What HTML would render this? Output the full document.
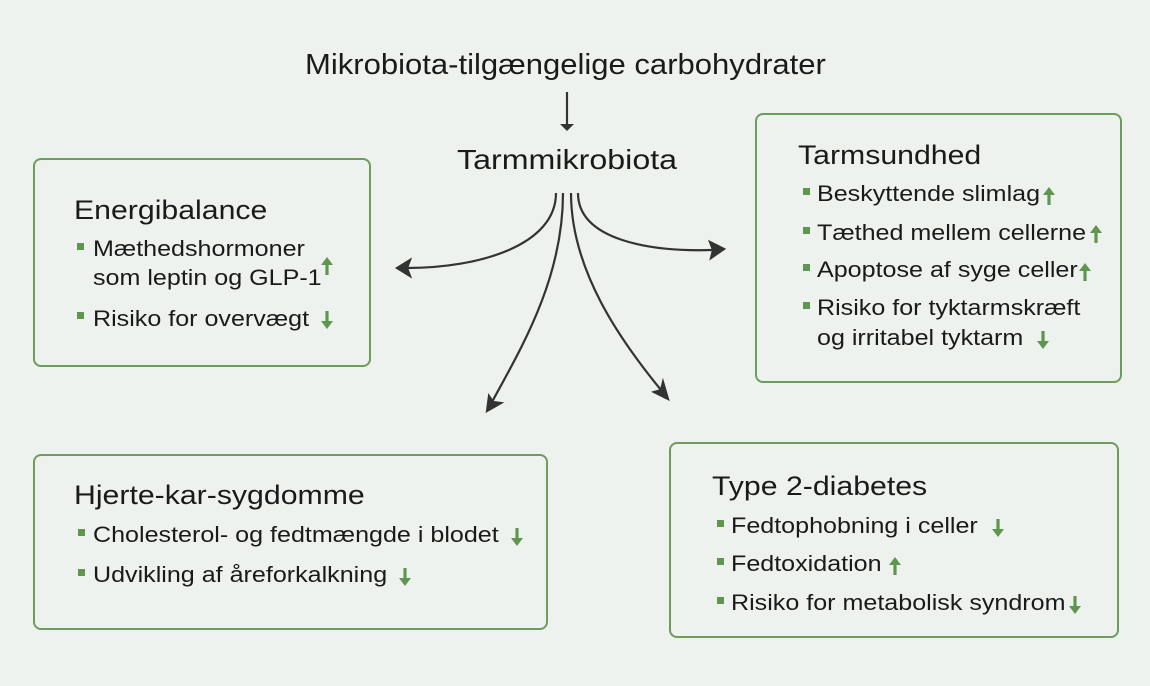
<!DOCTYPE html>
<html><head><meta charset="utf-8"><style>
body{margin:0;width:1150px;height:686px;background:#eef2ee;position:relative;overflow:hidden;font-family:"Liberation Sans",sans-serif;color:#1a1a1a}
.box{position:absolute;border:2.5px solid #6e9c5c;border-radius:8px;box-sizing:border-box}
.t{position:absolute;white-space:nowrap;line-height:1;transform-origin:0 0}
.h{font-size:27px;transform:scaleX(1.12)}
.i{font-size:22px;transform:scaleX(1.14)}
.b{position:absolute;width:7px;height:7px;background:#5e9650}
</style></head><body>
<div class="box" style="left:33px;top:158px;width:338px;height:209px"></div>
<div class="box" style="left:755px;top:113px;width:367px;height:270px"></div>
<div class="box" style="left:33px;top:454px;width:515px;height:176px"></div>
<div class="box" style="left:669px;top:442px;width:450px;height:196px"></div>

<div class="t" style="left:305px;top:51px;font-size:29px;transform:scaleX(1.07)">Mikrobiota-tilgængelige carbohydrater</div>
<div class="t" style="left:457px;top:146px;font-size:28px;transform:scaleX(1.15)">Tarmmikrobiota</div>

<svg width="1150" height="686" style="position:absolute;left:0;top:0" fill="none" stroke="#333" stroke-width="2.2">
<line x1="567" y1="92" x2="567" y2="124"/>
<path d="M560 124 L567 131 L574 124 Z" fill="#333" stroke="none"/>
<path d="M556 193 C556 245 480 268 407 268"/>
<path d="M578 193 C578 240 650 252 713 250"/>
<path d="M563 193 C563 280 520 350 492 402"/>
<path d="M571 193 C571 270 620 340 661 390"/>
<path d="M397 268 L410 260 L407 268 L410 276 Z" fill="#333"/>
<path d="M724 249 L710 242 L713 250 L711 258 Z" fill="#333"/>
<path d="M487 411 L489 396 L493 402 L501 403 Z" fill="#333"/>
<path d="M668 399 L654 392 L661 390 L663 382 Z" fill="#333"/>
</svg>

<div class="t h" style="left:74px;top:197px">Energibalance</div>
<div class="b" style="left:77px;top:243px"></div>
<div class="t i" style="left:93px;top:238px">Mæthedshormoner</div>
<div class="t i" style="left:93px;top:267px">som leptin og GLP-1</div>
<div class="b" style="left:77px;top:312px"></div>
<div class="t i" style="left:93px;top:308px">Risiko for overvægt</div>

<div class="t h" style="left:798px;top:142px">Tarmsundhed</div>
<div class="b" style="left:803px;top:188px"></div><div class="t i" style="left:817px;top:183px">Beskyttende slimlag</div>
<div class="b" style="left:803px;top:227px"></div><div class="t i" style="left:817px;top:222px">Tæthed mellem cellerne</div>
<div class="b" style="left:803px;top:264px"></div><div class="t i" style="left:817px;top:259px">Apoptose af syge celler</div>
<div class="b" style="left:803px;top:302px"></div><div class="t i" style="left:817px;top:297px">Risiko for tyktarmskræft</div>
<div class="t i" style="left:817px;top:327px">og irritabel tyktarm</div>

<div class="t h" style="left:74px;top:482px">Hjerte-kar-sygdomme</div>
<div class="b" style="left:78px;top:529px"></div><div class="t i" style="left:93px;top:524px">Cholesterol- og fedtmængde i blodet</div>
<div class="b" style="left:78px;top:569px"></div><div class="t i" style="left:93px;top:564px">Udvikling af åreforkalkning</div>

<div class="t h" style="left:712px;top:473px">Type 2-diabetes</div>
<div class="b" style="left:717px;top:520px"></div><div class="t i" style="left:731px;top:515px">Fedtophobning i celler</div>
<div class="b" style="left:717px;top:558px"></div><div class="t i" style="left:731px;top:553px">Fedtoxidation</div>
<div class="b" style="left:717px;top:597px"></div><div class="t i" style="left:731px;top:592px">Risiko for metabolisk syndrom</div>

<svg width="1150" height="686" style="position:absolute;left:0;top:0" fill="#5e9650">
<defs>
<path id="u" d="M0 -9 L6 -1 L1.6 -1 L1.6 9 L-1.6 9 L-1.6 -1 L-6 -1 Z"/>
<path id="d" d="M0 9 L6 1 L1.6 1 L1.6 -9 L-1.6 -9 L-1.6 1 L-6 1 Z"/>
</defs>
<use href="#u" x="327" y="266"/>
<use href="#d" x="327" y="320"/>
<use href="#u" x="1049" y="196"/>
<use href="#u" x="1096" y="234"/>
<use href="#u" x="1085" y="272"/>
<use href="#d" x="1043" y="340"/>
<use href="#d" x="517" y="537"/>
<use href="#d" x="405" y="577"/>
<use href="#d" x="998" y="528"/>
<use href="#u" x="895" y="566"/>
<use href="#d" x="1075" y="605"/>
</svg>
</body></html>
